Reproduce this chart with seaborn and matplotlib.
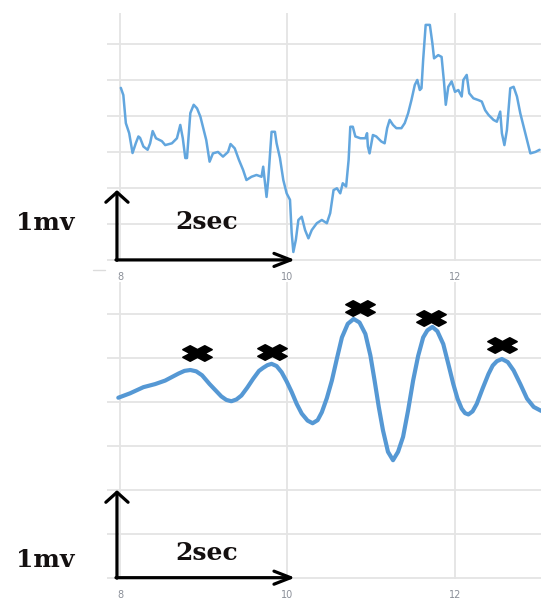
import matplotlib
matplotlib.use("Agg")
import matplotlib.pyplot as plt
from matplotlib.path import Path
from matplotlib.markers import MarkerStyle
from matplotlib.lines import Line2D
import seaborn as sns

# ---- raw recording (seconds, mV grid units) ----
raw_t = [8.01, 8.04, 8.07, 8.11, 8.15, 8.19, 8.22, 8.24, 8.28, 8.33, 8.36, 8.39,
         8.43, 8.50, 8.54, 8.62, 8.68, 8.72, 8.75, 8.78, 8.80, 8.84, 8.88, 8.92,
         8.96, 8.99, 9.03, 9.07, 9.11, 9.17, 9.23, 9.29, 9.32, 9.37, 9.42, 9.47,
         9.51, 9.57, 9.63, 9.69, 9.71, 9.75, 9.77, 9.81, 9.85, 9.87, 9.91, 9.95,
         9.99, 10.03, 10.05, 10.07, 10.10, 10.13, 10.17, 10.21, 10.25, 10.29,
         10.35, 10.41, 10.47, 10.51, 10.55, 10.59, 10.63, 10.66, 10.70, 10.73,
         10.75, 10.78, 10.81, 10.87, 10.93, 10.95, 10.96, 10.98, 11.02, 11.06,
         11.12, 11.16, 11.19, 11.22, 11.26, 11.30, 11.36, 11.40, 11.44, 11.48,
         11.52, 11.55, 11.58, 11.60, 11.62, 11.65, 11.70, 11.73, 11.75, 11.80,
         11.84, 11.87, 11.89, 11.92, 11.96, 12.00, 12.04, 12.08, 12.10, 12.14,
         12.17, 12.22, 12.28, 12.32, 12.36, 12.40, 12.46, 12.50, 12.54, 12.56,
         12.59, 12.62, 12.66, 12.70, 12.74, 12.78, 12.82, 12.86, 12.90, 12.96,
         13.01]
raw_mv = [4.78, 4.58, 3.80, 3.52, 2.97, 3.25, 3.43, 3.39, 3.15, 3.06, 3.24, 3.58,
          3.38, 3.30, 3.19, 3.24, 3.38, 3.75, 3.38, 2.83, 2.83, 4.08, 4.31, 4.21,
          3.98, 3.70, 3.33, 2.73, 2.96, 3.00, 2.87, 3.00, 3.22, 3.10, 2.78, 2.50,
          2.22, 2.31, 2.36, 2.31, 2.59, 1.75, 2.22, 3.56, 3.56, 3.24, 2.83, 2.22,
          1.85, 1.67, 0.75, 0.22, 0.56, 1.11, 1.20, 0.83, 0.60, 0.83,
          1.02, 1.11, 1.02, 1.30, 1.94, 1.99, 1.85, 2.13, 2.04, 2.78,
          3.70, 3.70, 3.43, 3.38, 3.38, 3.52, 3.15, 2.96, 3.47, 3.43,
          3.29, 3.24, 3.66, 3.89, 3.75, 3.66, 3.66, 3.80, 4.07, 4.44,
          4.86, 5.00, 4.72, 4.77, 5.56, 6.53, 6.53, 6.02, 5.60, 5.69,
          5.64, 4.91, 4.31, 4.81, 4.96, 4.67, 4.72, 4.54, 5.00, 5.14,
          4.63, 4.49, 4.44, 4.40, 4.16, 4.03, 3.89, 3.84, 4.12, 3.52,
          3.19, 3.61, 4.77, 4.81, 4.54, 4.07, 3.70, 3.33, 2.96, 3.00,
          3.06]

# ---- filtered wave ----
wave_t = [7.98, 8.12, 8.28, 8.42, 8.54, 8.62, 8.70, 8.77, 8.84, 8.91, 8.98,
          9.07, 9.15, 9.21, 9.27, 9.33, 9.39, 9.45, 9.52, 9.59, 9.66, 9.71,
          9.76, 9.81, 9.87, 9.93, 9.99, 10.05, 10.11, 10.17, 10.24, 10.30,
          10.36, 10.41, 10.47, 10.53, 10.59, 10.65, 10.72, 10.79, 10.86,
          10.93, 10.99, 11.04, 11.09, 11.14, 11.20, 11.26, 11.32, 11.38,
          11.44, 11.50, 11.56, 11.62, 11.67, 11.73, 11.79, 11.86, 11.92,
          11.98, 12.03, 12.08, 12.12, 12.16, 12.21, 12.26, 12.33, 12.40,
          12.45, 12.50, 12.56, 12.63, 12.70, 12.78, 12.86, 12.94, 13.03]
wave_mv = [4.09, 4.19, 4.33, 4.40, 4.48, 4.56, 4.64, 4.70, 4.72, 4.69, 4.60,
           4.40, 4.24, 4.12, 4.04, 4.01, 4.05, 4.14, 4.32, 4.52, 4.70, 4.77,
           4.83, 4.86, 4.81, 4.67, 4.46, 4.22, 3.95, 3.73, 3.57, 3.51,
           3.58, 3.76, 4.08, 4.48, 4.98, 5.46, 5.77, 5.88, 5.80,
           5.54, 5.05, 4.48, 3.88, 3.35, 2.86, 2.67, 2.86, 3.20,
           3.80, 4.48, 5.04, 5.46, 5.62, 5.70, 5.60, 5.31, 4.86,
           4.40, 4.07, 3.84, 3.74, 3.71, 3.78, 3.95, 4.30, 4.63,
           4.82, 4.92, 4.97, 4.90, 4.71, 4.40, 4.07, 3.88, 3.79]

# detected peaks (cross markers)
peak_t = [8.92, 9.81, 10.86, 11.71, 12.56]
peak_mv = [5.11, 5.13, 6.13, 5.91, 5.29]

x_ticks = [8, 10, 12]
x_tick_labels = ["8", "10", "12"]
grid_levels = [0, 1, 2, 3, 4, 5, 6]

# scale bars: 2 s horizontally, 1 mV vertically (in each panel's grid units)
bar_t0, bar_t1 = 7.964, 10.09
bar_mv_top = 1.94
bar_mv_bot = 1.99

LINE = "#62a6de"
WAVE = "#5598d4"

sns.set_style("white")
plt.rcParams["font.family"] = ["DejaVu Sans"]

W, H = 541, 600
fig = plt.figure(figsize=(W / 100, H / 100), dpi=100)


def px_axes(left, top, right, bottom):
    return fig.add_axes([left / W, 1 - bottom / H, (right - left) / W, (bottom - top) / H])


ax_top = px_axes(107, 13, 541, 261)
ax_bot = px_axes(107, 282, 541, 579)


def style(ax, ymax):
    ax.set_xlim(7.845, 13.027)
    ax.set_ylim(-0.03, ymax)
    ax.set_xticks(x_ticks)
    ax.set_xticklabels(x_tick_labels)
    ax.set_yticks(grid_levels)
    ax.set_yticklabels([])
    ax.tick_params(length=0, pad=8, labelsize=7, labelcolor="#8a8f98")
    ax.grid(True, color="#e4e4e4", lw=1.3)
    ax.set_axisbelow(True)
    for s in ax.spines.values():
        s.set_visible(False)
    ax.set_xlabel("")
    ax.set_ylabel("")


def scale_bar(ax, mv_len):
    ax.annotate("", xy=(bar_t0, mv_len), xytext=(bar_t0, -0.01),
                arrowprops=dict(arrowstyle="->,head_length=0.72,head_width=0.8",
                                lw=2.3, color="black", shrinkA=0, shrinkB=0,
                                mutation_scale=10), zorder=6)
    ax.annotate("", xy=(bar_t1, 0), xytext=(bar_t0 - 0.012, 0),
                arrowprops=dict(arrowstyle="->,head_length=1.2,head_width=0.47",
                                lw=2.3, color="black", shrinkA=0, shrinkB=0,
                                mutation_scale=10), zorder=6)


# top panel: raw trace
sns.lineplot(x=raw_t, y=raw_mv, ax=ax_top, color=LINE, lw=1.8, zorder=3)
style(ax_top, 6.86)
scale_bar(ax_top, bar_mv_top)

# bottom panel: filtered wave with peak markers
sns.lineplot(x=wave_t, y=wave_mv, ax=ax_bot, color=WAVE, lw=3.0, zorder=3)

x_shape = [(0.25, 0), (0.5, 0.25), (0.75, 0), (1, 0.25), (0.75, 0.5), (1, 0.75),
           (0.75, 1), (0.5, 0.75), (0.25, 1), (0, 0.75), (0.25, 0.5), (0, 0.25),
           (0.25, 0)]
wide_x = Path([((x - 0.5) * 1.9, y - 0.5) for x, y in x_shape], closed=True)
sns.scatterplot(x=peak_t, y=peak_mv, ax=ax_bot, marker=MarkerStyle(wide_x),
                s=21 ** 2, color="black", edgecolor="black", linewidth=1.2,
                zorder=5)
style(ax_bot, 6.72)
scale_bar(ax_bot, bar_mv_bot)

# scale bar captions
cap = dict(family=["DejaVu Serif"], fontsize=18, fontweight="bold",
           color="#141010", ha="center", va="center")
fig.text(45 / W, 1 - 223 / H, "1mv", **cap)
fig.text(207 / W, 1 - 222 / H, "2sec", **cap)
fig.text(45 / W, 1 - 560 / H, "1mv", **cap)
fig.text(207 / W, 1 - 553 / H, "2sec", **cap)

fig.add_artist(Line2D([93 / W, 105 / W], [1 - 270 / H] * 2, color="#dcdcdc", lw=1))

fig.savefig("out.png", dpi=100)
